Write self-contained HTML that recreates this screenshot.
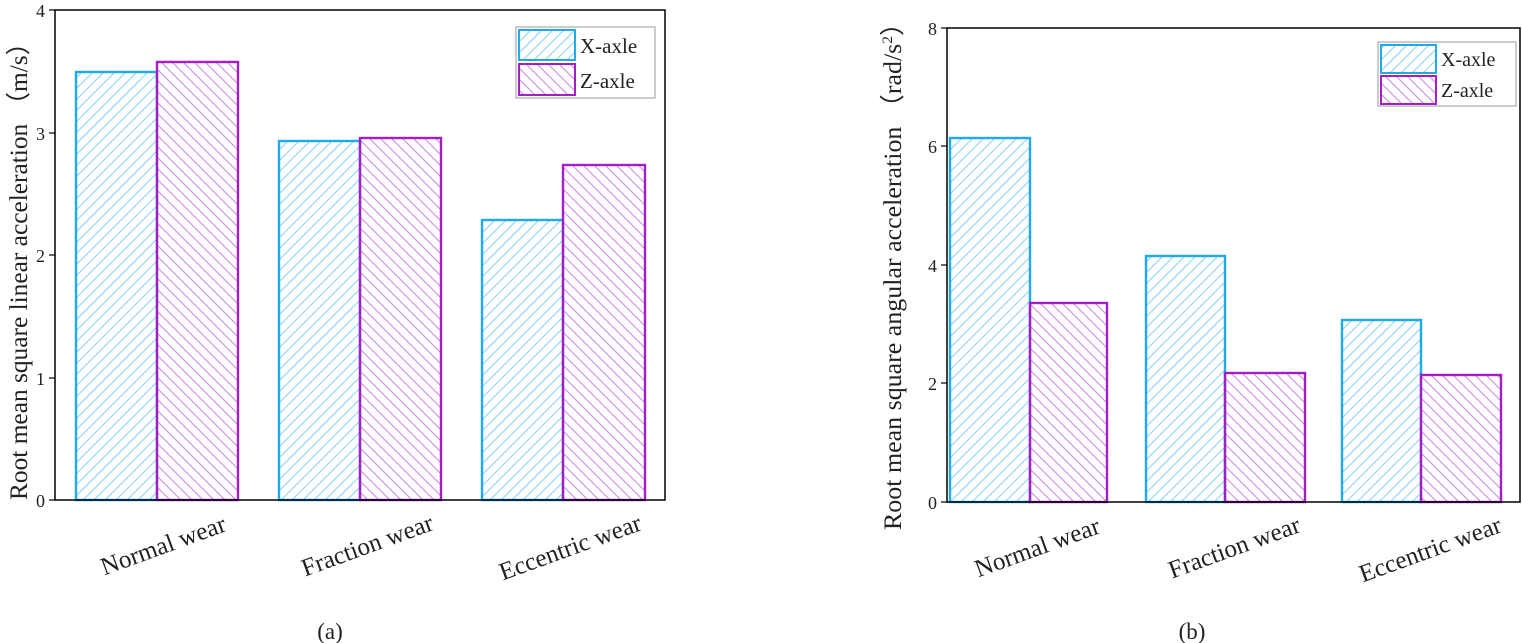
<!DOCTYPE html>
<html><head><meta charset="utf-8"><style>
html,body{margin:0;padding:0;background:#fff;}
svg{display:block;font-family:"Liberation Serif",serif;}
</style></head><body>
<svg width="1522" height="643" viewBox="0 0 1522 643" xmlns="http://www.w3.org/2000/svg">
<defs>
<pattern id="hx" patternUnits="userSpaceOnUse" width="11" height="11">
<path d="M-1,1 L1,-1 M0,11 L11,0 M10,12 L12,10" stroke="#8ad4f6" stroke-width="1.1"/></pattern>
<pattern id="hz" patternUnits="userSpaceOnUse" width="11" height="11">
<path d="M-1,10 L1,12 M0,0 L11,11 M10,-1 L12,1" stroke="#cf8ae4" stroke-width="1.1"/></pattern>
</defs>
<g stroke-width="2.4">
<rect x="76" y="72" width="81" height="428" fill="url(#hx)" stroke="#1eaaf1"/>
<rect x="157" y="62" width="81" height="438" fill="url(#hz)" stroke="#a41ec8"/>
<rect x="279" y="141" width="81" height="359" fill="url(#hx)" stroke="#1eaaf1"/>
<rect x="360" y="138" width="81" height="362" fill="url(#hz)" stroke="#a41ec8"/>
<rect x="482" y="220" width="81" height="280" fill="url(#hx)" stroke="#1eaaf1"/>
<rect x="563" y="165" width="82" height="335" fill="url(#hz)" stroke="#a41ec8"/>
<rect x="950" y="138" width="80" height="364" fill="url(#hx)" stroke="#1eaaf1"/>
<rect x="1030" y="303" width="77" height="199" fill="url(#hz)" stroke="#a41ec8"/>
<rect x="1146" y="256" width="79" height="246" fill="url(#hx)" stroke="#1eaaf1"/>
<rect x="1225" y="373" width="80" height="129" fill="url(#hz)" stroke="#a41ec8"/>
<rect x="1342" y="320" width="79" height="182" fill="url(#hx)" stroke="#1eaaf1"/>
<rect x="1421" y="375" width="80" height="127" fill="url(#hz)" stroke="#a41ec8"/>
</g>
<rect x="55" y="10" width="610" height="490" fill="none" stroke="#000" stroke-width="1.5"/>
<rect x="947" y="28" width="573" height="474" fill="none" stroke="#000" stroke-width="1.5"/>
<g stroke="#000" stroke-width="1.2">
<line x1="49" y1="10" x2="55" y2="10"/><line x1="49" y1="133" x2="55" y2="133"/><line x1="49" y1="255" x2="55" y2="255"/><line x1="49" y1="378" x2="55" y2="378"/><line x1="49" y1="500" x2="55" y2="500"/>
<line x1="941" y1="28" x2="947" y2="28"/><line x1="941" y1="146" x2="947" y2="146"/><line x1="941" y1="265" x2="947" y2="265"/><line x1="941" y1="383" x2="947" y2="383"/><line x1="941" y1="502" x2="947" y2="502"/>
</g>
<g font-size="18" fill="#222" text-anchor="end">
<text x="45" y="17">4</text><text x="45" y="140">3</text><text x="45" y="262">2</text><text x="45" y="385">1</text><text x="45" y="507">0</text>
<text x="937" y="35">8</text><text x="937" y="153">6</text><text x="937" y="272">4</text><text x="937" y="390">2</text><text x="937" y="509">0</text>
</g>
<g font-size="25" fill="#222">
<text transform="translate(27,265) rotate(-90)" text-anchor="middle" textLength="470" lengthAdjust="spacingAndGlyphs">Root mean square linear acceleration （m/s）</text>
<text transform="translate(901,270) rotate(-90)" text-anchor="middle" textLength="520" lengthAdjust="spacingAndGlyphs">Root mean square angular acceleration （rad/s<tspan font-size="15" dy="-9">2</tspan><tspan dy="9">）</tspan></text>
</g>
<g font-size="25" fill="#222" text-anchor="middle">
<text transform="translate(166,553) rotate(-20)">Normal wear</text>
<text transform="translate(370,553) rotate(-20)">Fraction wear</text>
<text transform="translate(573,555) rotate(-20)">Eccentric wear</text>
<text transform="translate(1040,555) rotate(-20)">Normal wear</text>
<text transform="translate(1237,555) rotate(-20)">Fraction wear</text>
<text transform="translate(1433,557) rotate(-20)">Eccentric wear</text>
</g>
<g font-size="23" fill="#222" text-anchor="middle">
<text x="330" y="639">(a)</text>
<text x="1192" y="639">(b)</text>
</g>
<rect x="516" y="27" width="139" height="71" fill="#fff" stroke="#999" stroke-width="1"/>
<rect x="519" y="30" width="56" height="30" fill="url(#hx)" stroke="#1eaaf1" stroke-width="2"/>
<rect x="519" y="64" width="56" height="31" fill="url(#hz)" stroke="#a41ec8" stroke-width="2"/>
<g font-size="21" fill="#222"><text x="580" y="53">X-axle</text><text x="580" y="88">Z-axle</text></g>
<rect x="1378" y="42" width="138" height="64" fill="#fff" stroke="#999" stroke-width="1"/>
<rect x="1381" y="45" width="55" height="28" fill="url(#hx)" stroke="#1eaaf1" stroke-width="2"/>
<rect x="1381" y="76" width="55" height="28" fill="url(#hz)" stroke="#a41ec8" stroke-width="2"/>
<g font-size="20" fill="#222"><text x="1441" y="66">X-axle</text><text x="1441" y="97">Z-axle</text></g>
</svg>
</body></html>
